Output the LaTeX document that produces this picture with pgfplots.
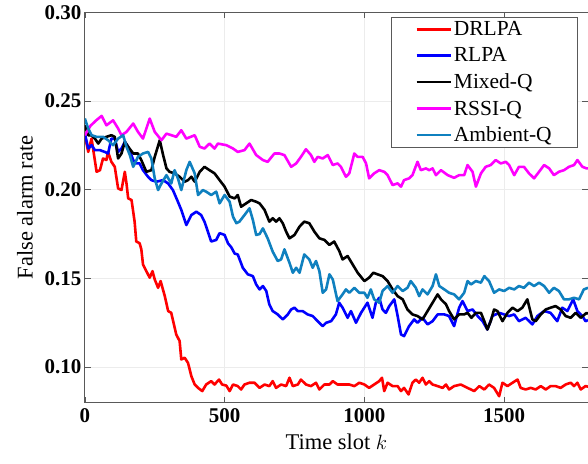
\documentclass[border=0pt]{standalone}
\usepackage{pgfplots}
\pgfplotsset{compat=1.18}
\usepackage{fontspec}
\setmainfont{Liberation Serif}
\definecolor{ambq}{rgb}{0.06,0.5,0.75}
\definecolor{mag}{rgb}{1,0,1}
\definecolor{rd}{rgb}{1,0,0}
\definecolor{bl}{rgb}{0,0,1}
\begin{document}
\begin{tikzpicture}
\begin{axis}[
  scale only axis, width=504pt, height=391pt,
  xmin=0, xmax=1800, ymin=0.08, ymax=0.30,
  xtick={0,500,1000,1500}, ytick={0.10,0.15,0.20,0.25,0.30},
  xticklabel style={/pgf/number format/1000 sep={}},
  yticklabel style={/pgf/number format/fixed,/pgf/number format/fixed zerofill,/pgf/number format/precision=2},
  /pgf/number format/assume math mode=true,
  scaled y ticks=false,
  ticklabel style={font=\fontsize{21}{23}\selectfont\bfseries},
  xticklabel style={yshift=-2pt},
  tick align=inside, major tick length=6pt,
  tick style={gray!70!black, line width=0.6pt},
  axis line style={gray!70!black, line width=0.8pt},
  grid=major, major grid style={gray!15, line width=0.8pt},
  xlabel={Time slot $k$}, ylabel={False alarm rate},
  label style={font=\fontsize{22.5}{24}\selectfont},
  xlabel style={yshift=-5pt},
  ylabel style={yshift=5pt},
  legend cell align=left,
  legend style={at={(0.98,0.987)}, anchor=north east, draw=gray!70!black, line width=0.6pt,
    font=\fontsize{21.5}{23}\selectfont, inner xsep=24pt, inner ysep=2pt, row sep=6.5pt},
  legend image code/.code={\draw[#1, line width=2.6pt] (0pt,0pt)--(34pt,0pt);},
  every axis plot/.append style={line width=2.6pt, line join=round},
]
\addplot[rd] coordinates {
(0,0.231)(12,0.2213)(24,0.2288)(42,0.2101)(54,0.2110)(65,0.2176)(77,0.2167)(83,0.2213)(95,0.2157)(107,0.2129)(119,0.2007)(131,0.1998)(143,0.2101)(149,0.2035)(155,0.1951)(167,0.1942)(178,0.1820)(184,0.1708)(196,0.1698)(202,0.1664)(208,0.1579)(220,0.1541)(232,0.1504)(242,0.1541)(250,0.1494)(262,0.1447)(271,0.1485)(286,0.1400)(298,0.1316)(309,0.1306)(327,0.1184)(339,0.1147)(345,0.1043)(357,0.1053)(369,0.1024)(381,0.0949)(393,0.0902)(405,0.0883)(420,0.0865)(434,0.0902)(452,0.0921)(464,0.0902)(480,0.0930)(491,0.0902)(506,0.0896)(518,0.0865)(530,0.0902)(547,0.0893)(559,0.0874)(571,0.0902)(589,0.0912)(607,0.0912)(625,0.0883)(643,0.0902)(660,0.0893)(672,0.0921)(684,0.0883)(702,0.0902)(720,0.0893)(732,0.0940)(744,0.0893)(762,0.0902)(773,0.0930)(791,0.0902)(809,0.0893)(827,0.0912)(839,0.0874)(857,0.0902)(875,0.0902)(887,0.0921)(904,0.0902)(922,0.0902)(946,0.0902)(964,0.0893)(982,0.0912)(1000,0.0902)(1017,0.0883)(1035,0.0902)(1053,0.0921)(1063,0.0940)(1071,0.0865)(1083,0.0912)(1101,0.0893)(1119,0.0893)(1131,0.0865)(1142,0.0883)(1158,0.0846)(1172,0.0912)(1184,0.0930)(1196,0.0912)(1208,0.0940)(1220,0.0902)(1232,0.0921)(1244,0.0902)(1262,0.0893)(1280,0.0883)(1292,0.0902)(1303,0.0874)(1321,0.0893)(1345,0.0902)(1369,0.0883)(1393,0.0865)(1411,0.0893)(1429,0.0874)(1446,0.0902)(1464,0.0883)(1482,0.0836)(1494,0.0912)(1512,0.0893)(1530,0.0912)(1548,0.0930)(1559,0.0883)(1577,0.0874)(1595,0.0883)(1613,0.0874)(1631,0.0893)(1649,0.0874)(1666,0.0893)(1684,0.0893)(1702,0.0883)(1720,0.0902)(1738,0.0912)(1750,0.0893)(1762,0.0912)(1774,0.0874)(1791,0.0893)(1800,0.0890)
};
\addlegendentry{DRLPA}
\addplot[bl] coordinates {
(0,0.2316)(12,0.2232)(24,0.2251)(36,0.2223)(54,0.2223)(71,0.2213)(83,0.2204)(95,0.2288)(107,0.2288)(119,0.2213)(131,0.2232)(143,0.2270)(155,0.2242)(173,0.2167)(184,0.2148)(196,0.2148)(208,0.2110)(226,0.2073)(238,0.2054)(256,0.2045)(280,0.2054)(298,0.2035)(315,0.1998)(333,0.1932)(345,0.1886)(363,0.1801)(381,0.1857)(399,0.1876)(416,0.1857)(428,0.1820)(440,0.1764)(452,0.1708)(470,0.1717)(482,0.1755)(500,0.1745)(512,0.1698)(524,0.1675)(536,0.1640)(547,0.1635)(565,0.1560)(583,0.1523)(601,0.1513)(613,0.1466)(625,0.1438)(637,0.1457)(649,0.1429)(660,0.1353)(672,0.1316)(690,0.1297)(708,0.1269)(726,0.1297)(738,0.1325)(750,0.1335)(762,0.1316)(779,0.1316)(797,0.1297)(815,0.1288)(833,0.1259)(851,0.1231)(863,0.1250)(881,0.1259)(898,0.1297)(910,0.1363)(922,0.1335)(940,0.1278)(952,0.1316)(970,0.1250)(988,0.1306)(1011,0.1363)(1029,0.1278)(1041,0.1363)(1053,0.1391)(1065,0.1325)(1077,0.1306)(1089,0.1344)(1107,0.1382)(1119,0.1288)(1131,0.1184)(1142,0.1175)(1160,0.1231)(1178,0.1269)(1190,0.1250)(1208,0.1278)(1226,0.1241)(1244,0.1259)(1262,0.1297)(1286,0.1297)(1303,0.1288)(1321,0.1231)(1339,0.1335)(1351,0.1372)(1369,0.1316)(1387,0.1325)(1405,0.1288)(1423,0.1259)(1440,0.1212)(1458,0.1288)(1482,0.1306)(1500,0.1297)(1518,0.1288)(1536,0.1297)(1553,0.1259)(1577,0.1278)(1601,0.1241)(1619,0.1288)(1643,0.1316)(1666,0.1306)(1690,0.1259)(1708,0.1335)(1726,0.1316)(1747,0.1382)(1762,0.1316)(1780,0.1288)(1791,0.1259)(1800,0.1265)
};
\addlegendentry{RLPA}
\addplot[black] coordinates {
(0,0.2363)(12,0.2307)(24,0.2307)(36,0.2288)(48,0.2260)(60,0.2288)(77,0.2298)(95,0.2307)(107,0.2298)(119,0.2176)(131,0.2204)(143,0.2270)(155,0.2242)(173,0.2204)(190,0.2204)(202,0.2167)(220,0.2101)(238,0.2110)(250,0.2185)(268,0.2279)(280,0.2195)(292,0.2120)(303,0.2101)(321,0.2092)(339,0.2073)(357,0.2045)(369,0.2054)(381,0.2073)(393,0.2045)(411,0.2101)(428,0.2129)(446,0.2110)(464,0.2092)(482,0.2054)(500,0.2017)(518,0.1961)(536,0.1951)(547,0.1970)(559,0.1904)(577,0.1923)(595,0.1942)(613,0.1932)(625,0.1923)(643,0.1886)(660,0.1820)(672,0.1839)(684,0.1820)(696,0.1839)(708,0.1811)(720,0.1764)(732,0.1726)(750,0.1745)(768,0.1792)(785,0.1820)(803,0.1811)(821,0.1764)(839,0.1726)(857,0.1717)(875,0.1689)(892,0.1708)(910,0.1655)(922,0.1607)(940,0.1626)(958,0.1579)(976,0.1532)(1000,0.1485)(1017,0.1504)(1032,0.1532)(1047,0.1523)(1065,0.1513)(1083,0.1485)(1101,0.1438)(1119,0.1400)(1137,0.1382)(1154,0.1325)(1172,0.1297)(1190,0.1288)(1208,0.1269)(1226,0.1316)(1244,0.1363)(1262,0.1410)(1274,0.1382)(1292,0.1354)(1303,0.1316)(1321,0.1269)(1339,0.1297)(1357,0.1297)(1369,0.1306)(1383,0.1278)(1399,0.1306)(1417,0.1306)(1429,0.1259)(1440,0.1212)(1452,0.1259)(1464,0.1325)(1476,0.1316)(1494,0.1259)(1512,0.1306)(1530,0.1335)(1548,0.1316)(1565,0.1335)(1583,0.1382)(1601,0.1269)(1613,0.1259)(1631,0.1297)(1649,0.1325)(1666,0.1335)(1684,0.1344)(1702,0.1325)(1720,0.1288)(1738,0.1278)(1756,0.1306)(1774,0.1278)(1795,0.1306)(1800,0.1300)
};
\addlegendentry{Mixed-Q}
\addplot[mag] coordinates {
(0,0.2307)(20,0.2360)(40,0.2390)(60,0.2416)(77,0.2363)(101,0.2391)(119,0.2345)(131,0.2307)(149,0.2326)(173,0.2373)(190,0.2326)(208,0.2288)(232,0.2401)(250,0.2326)(274,0.2279)(292,0.2316)(327,0.2298)(345,0.2335)(363,0.2288)(393,0.2307)(411,0.2242)(428,0.2232)(446,0.2260)(464,0.2232)(476,0.2260)(506,0.2251)(530,0.2232)(547,0.2213)(571,0.2223)(589,0.2260)(613,0.2195)(637,0.2167)(654,0.2157)(678,0.2204)(696,0.2204)(714,0.2195)(738,0.2129)(756,0.2148)(773,0.2185)(791,0.2228)(809,0.2195)(821,0.2157)(833,0.2185)(851,0.2176)(869,0.2195)(887,0.2139)(904,0.2148)(916,0.2129)(934,0.2073)(946,0.2092)(964,0.2204)(976,0.2185)(994,0.2185)(1006,0.2148)(1017,0.2064)(1035,0.2092)(1053,0.2110)(1071,0.2101)(1083,0.2082)(1101,0.2026)(1119,0.2036)(1131,0.2017)(1142,0.2054)(1160,0.2064)(1172,0.2082)(1190,0.2157)(1202,0.2110)(1220,0.2120)(1232,0.2110)(1244,0.2120)(1256,0.2082)(1274,0.2110)(1298,0.2082)(1321,0.2067)(1339,0.2082)(1357,0.2082)(1369,0.2139)(1387,0.2101)(1399,0.2017)(1417,0.2092)(1434,0.2129)(1452,0.2139)(1470,0.2167)(1488,0.2148)(1506,0.2157)(1518,0.2139)(1536,0.2082)(1553,0.2129)(1571,0.2129)(1589,0.2092)(1607,0.2064)(1625,0.2101)(1643,0.2139)(1661,0.2120)(1678,0.2082)(1696,0.2101)(1714,0.2110)(1732,0.2129)(1750,0.2139)(1762,0.2167)(1780,0.2129)(1795,0.2120)(1800,0.2120)
};
\addlegendentry{RSSI-Q}
\addplot[ambq] coordinates {
(0,0.2401)(12,0.2345)(24,0.2307)(42,0.2298)(65,0.2298)(83,0.2279)(101,0.2251)(119,0.2288)(137,0.2307)(149,0.2242)(161,0.2195)(173,0.2129)(190,0.2185)(208,0.2204)(226,0.2213)(238,0.2176)(250,0.2064)(262,0.1998)(274,0.2035)(292,0.2082)(309,0.2035)(321,0.2110)(333,0.2064)(345,0.1998)(363,0.2110)(375,0.2157)(393,0.2092)(405,0.1970)(422,0.1998)(434,0.1989)(452,0.1970)(470,0.1989)(482,0.1923)(500,0.1970)(518,0.1932)(530,0.1848)(542,0.1811)(553,0.1820)(571,0.1857)(589,0.1895)(601,0.1830)(613,0.1745)(625,0.1750)(637,0.1782)(654,0.1726)(672,0.1651)(690,0.1598)(702,0.1607)(714,0.1664)(732,0.1588)(744,0.1532)(756,0.1560)(768,0.1532)(785,0.1635)(803,0.1607)(815,0.1560)(827,0.1598)(839,0.1541)(851,0.1419)(863,0.1438)(875,0.1523)(887,0.1494)(904,0.1372)(922,0.1410)(934,0.1438)(946,0.1419)(964,0.1447)(982,0.1419)(1000,0.1419)(1011,0.1391)(1023,0.1438)(1035,0.1382)(1053,0.1363)(1065,0.1429)(1083,0.1457)(1101,0.1419)(1119,0.1457)(1137,0.1429)(1154,0.1447)(1166,0.1485)(1184,0.1447)(1196,0.1400)(1208,0.1438)(1226,0.1410)(1244,0.1457)(1256,0.1523)(1268,0.1457)(1286,0.1438)(1303,0.1419)(1321,0.1410)(1339,0.1382)(1357,0.1419)(1369,0.1485)(1381,0.1466)(1399,0.1485)(1417,0.1476)(1429,0.1513)(1446,0.1485)(1464,0.1419)(1482,0.1438)(1500,0.1429)(1518,0.1447)(1536,0.1438)(1553,0.1457)(1571,0.1447)(1589,0.1476)(1607,0.1457)(1625,0.1476)(1643,0.1457)(1661,0.1419)(1678,0.1447)(1696,0.1429)(1714,0.1382)(1732,0.1382)(1750,0.1391)(1768,0.1382)(1785,0.1438)(1800,0.1447)
};
\addlegendentry{Ambient-Q}
\end{axis}
\pgfresetboundingbox
\path ([xshift=-85pt,yshift=-61pt]current axis.south west) rectangle ([yshift=12.3pt]current axis.north east);
\end{tikzpicture}
\end{document}
